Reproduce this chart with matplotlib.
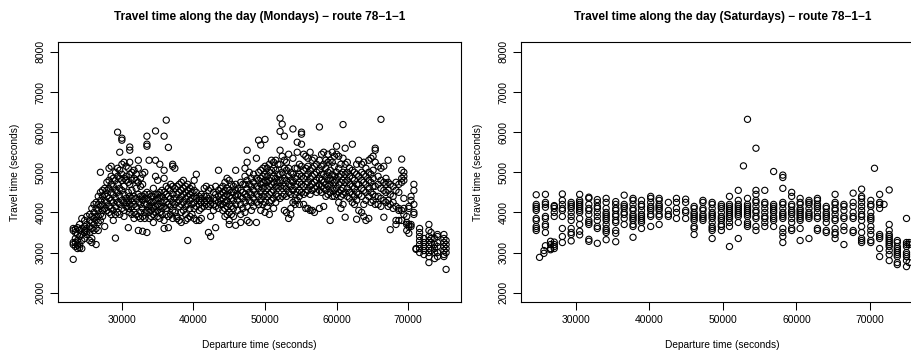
import matplotlib
matplotlib.use("Agg")
import matplotlib.pyplot as plt
import numpy as np

plt.rcParams['font.family'] = ['Liberation Sans', 'DejaVu Sans']

# ---------------- Monday data: departure time -> travel times ----------------
mon_dep = [23200, 23500, 23800, 24100, 24400, 24800, 25100, 25500, 25800, 26100,
           26400, 26700, 27000, 27300, 27600, 27900, 28200, 28500, 28800, 29100,
           29400, 29700, 30000, 30300, 30600, 30900, 31100, 31400, 31700, 32000,
           32300, 32600, 32900, 33200, 33500, 33800, 34100, 34400, 34700, 35000,
           35300, 35600, 35900, 36200, 36500, 36800, 37100, 37400, 37700, 38000,
           38300, 38600, 38900, 39200, 39500, 39800, 40100, 40400, 40800, 41100,
           41500, 41800, 42100, 42400, 42800, 43100, 43500, 43800, 44100, 44400,
           44700, 45000, 45300, 45600, 45900, 46200, 46600, 46900, 47200, 47500,
           47800, 48100, 48400, 48800, 49100, 49400, 49700, 50000, 50300, 50600,
           50900, 51200, 51500, 51800, 52100, 52400, 52700, 53000, 53300, 53600,
           53900, 54200, 54500, 54800, 55100, 55400, 55700, 56000, 56300, 56600,
           56900, 57200, 57600, 57900, 58200, 58500, 58800, 59100, 59400, 59700,
           60000, 60300, 60600, 60900, 61200, 61500, 61800, 62200, 62500, 62800,
           63100, 63500, 63800, 64100, 64500, 64800, 65100, 65400, 65800, 66200,
           66600, 66900, 67200, 67500, 67900, 68300, 68700, 69100, 69400, 69800,
           70100, 70400, 70800, 71100, 71600, 72200, 72900, 73200, 73700, 74100,
           75000, 75300]
mon_travel = [
    [3600, 3550, 3250, 3200, 2830], [3580, 3500, 3350, 3150, 3250],
    [3620, 3450, 3300, 3180, 3100], [3700, 3550, 3400, 3200, 3120],
    [3850, 3600, 3450, 3300, 3100], [3800, 3650, 3500, 3350, 3550],
    [3900, 3700, 3600, 3450, 3520], [3950, 3800, 3650, 3500, 3300],
    [4100, 3900, 3750, 3600, 3350, 3250], [4200, 4000, 3850, 3700, 3550],
    [4250, 4100, 3900, 3800, 3600, 3200], [4400, 4200, 4050, 3900, 3750, 3550],
    [5000, 4500, 4300, 4150, 3950, 3800], [4550, 4400, 4200, 4050, 3900],
    [4600, 4450, 4300, 4100, 3650], [4750, 4550, 4400, 4250, 4050],
    [4800, 4600, 4350, 4150, 4000, 5100], [5150, 4900, 4700, 4500, 4300, 4100, 3950],
    [4850, 4650, 4450, 4250, 4050, 3800], [5000, 4800, 4550, 4350, 4150, 3950, 3360],
    [6000, 5100, 4900, 4700, 4500, 4250, 4000], [5500, 5050, 4850, 4600, 4400, 4200, 3950],
    [5850, 5800, 5200, 4950, 4800, 4550, 4300, 4100], [5250, 4850, 4650, 4450, 4250, 4050, 3900],
    [5150, 4900, 4800, 4350, 4250, 4150], [5100, 4750, 4500, 4300, 4100, 3620],
    [5630, 5550, 5250, 4950, 4700, 4400, 4200, 4000], [5000, 4800, 4550, 4350, 4150, 3950],
    [5050, 4850, 4400, 4200, 4000, 3850], [4800, 4600, 4350, 4150, 3950, 4950],
    [5300, 5100, 4750, 4450, 4250, 3900, 3550], [4850, 4650, 4400, 4200, 4000, 3850],
    [4950, 4700, 4400, 4300, 4100, 3900, 3530], [5000, 4450, 4350, 4200, 4000, 3850],
    [5900, 5700, 5650, 4500, 4350, 4200, 4050, 3500], [5300, 4450, 4300, 4150, 4000, 3850],
    [4400, 4250, 4150, 4050, 3900], [4600, 4400, 4250, 4100, 3950, 3750],
    [6030, 5300, 4900, 4450, 4300, 4150, 4000], [4800, 4450, 4350, 4200, 4050, 3900],
    [5200, 4500, 4350, 4150, 4000, 3850], [4550, 4400, 4250, 4100, 3950],
    [5900, 5050, 4850, 4500, 4300, 4150, 3800, 3600], [6300, 4650, 4450, 4250, 4100, 3950],
    [5620, 4600, 4400, 4200, 3900, 3620], [4700, 4550, 4350, 4150, 3950],
    [5200, 5150, 4650, 4450, 4250, 4050, 3850], [5100, 4600, 4350, 4200, 4000],
    [4650, 4450, 4250, 3900, 3850], [4700, 4500, 4300, 4150, 3800],
    [4750, 4550, 4400, 4200, 4000, 3750], [4800, 4600, 4450, 4250, 4050],
    [4650, 4500, 4350, 4150, 3950, 3800], [4700, 4550, 4400, 4200, 3850, 3300],
    [4600, 4450, 4300, 4100, 3900], [4650, 4500, 4350, 4200, 3950],
    [4800, 4550, 4400, 4250, 4100, 3850], [4950, 4500, 4350, 4150, 3800],
    [4400, 4300, 4200, 4050, 3800], [4450, 4350, 4250, 4100, 3850],
    [4600, 4400, 4250, 4150], [4650, 4400, 4300, 4200],
    [4550, 4350, 4150, 3500], [4600, 4300, 4200, 3900, 3400],
    [4500, 4350, 4200, 4050], [4650, 4450, 4300, 4150, 3620],
    [5050, 4550, 4400, 4250, 4100], [4600, 4450, 4300, 4200],
    [4650, 4500, 4350, 4200, 4050], [4750, 4550, 4400, 4250, 4100, 3900],
    [4850, 4600, 4450, 4300, 4150, 3950], [4800, 4550, 4400, 4200, 4000, 3800, 3700],
    [4700, 4500, 4350, 4150, 3950], [4650, 4500, 4300, 4100, 3900],
    [5050, 4700, 4550, 4400, 4200, 3680], [4600, 4450, 4300, 4050],
    [4750, 4550, 4400, 4200, 3950, 3750], [4700, 4500, 4350, 4100],
    [5100, 4900, 4700, 4450, 4250, 4000], [5550, 5250, 4800, 4600, 4400, 4150, 3800],
    [5000, 4700, 4500, 4300, 3750], [4850, 4650, 4450, 4250, 4050],
    [4950, 4750, 4550, 4350, 4150], [5350, 4850, 4650, 4450, 4250, 3750],
    [5800, 5000, 4800, 4600, 4400, 4200], [5680, 5050, 4850, 4700, 4500, 4300, 4050],
    [5100, 4900, 4750, 4600, 4400, 4200], [5820, 5150, 4950, 4800, 4650, 4450, 4250, 4000],
    [5100, 4900, 4750, 4600, 4400, 4150], [5200, 5000, 4800, 4650, 4450, 4250, 3950],
    [5300, 5050, 4850, 4700, 4500, 4300], [5250, 5100, 4900, 4750, 4550, 4350, 4100],
    [5300, 5050, 4850, 4650, 4450, 4250], [5200, 4950, 4750, 4600, 4400],
    [6350, 6020, 5550, 5200, 4950, 4800, 4650, 4350], [6200, 5400, 5000, 4800, 4600, 4400],
    [5900, 5300, 5100, 4850, 4650, 4450, 4050], [5250, 5050, 4800, 4600, 4400, 4000],
    [5450, 5100, 4900, 4700, 4500, 3850], [5000, 4800, 4650, 4450, 4100, 3950],
    [6080, 5350, 4950, 4750, 4550, 4250], [5100, 4850, 4650, 4450, 4300, 4200],
    [5750, 5500, 5100, 4900, 4700, 4500, 4300], [5200, 4950, 4750, 4550, 4400, 4200],
    [6000, 5950, 5700, 5150, 4900, 4700, 4500], [5450, 5050, 4850, 4650, 4450, 4200],
    [5400, 5100, 4900, 4700, 4500, 4100], [5350, 5150, 4950, 4750, 4550, 4100],
    [5500, 5050, 4850, 4650, 4450, 4050], [5300, 5100, 4900, 4700, 4550, 4050],
    [5350, 5150, 4950, 4750, 4600, 4000], [5200, 5000, 4800, 4650, 4500],
    [6130, 5300, 5050, 4850, 4700, 4550, 4100], [5450, 5150, 4950, 4800, 4650, 4500],
    [5500, 5200, 4950, 4750, 4600, 4150], [5300, 5100, 4900, 4700, 4550, 4400],
    [5450, 5250, 5000, 4800, 4650, 4450], [5300, 5050, 4850, 4700, 4500, 3800],
    [5500, 5250, 4950, 4800, 4600, 4400], [5400, 5150, 4900, 4750, 4550, 4400],
    [5650, 5450, 5000, 4800, 4600, 4450], [5400, 5100, 4900, 4700, 4500, 4250],
    [5200, 4950, 4750, 4550, 4400, 4100], [6190, 5350, 5000, 4800, 4600, 4450, 4200],
    [5600, 5200, 4950, 4750, 4500, 3880], [5250, 5000, 4800, 4600, 4400],
    [5100, 4900, 4700, 4500, 4350], [5700, 5050, 4850, 4650, 4450, 4250],
    [5000, 4800, 4600, 4400, 4200], [5200, 4950, 4700, 4500, 4300, 3830],
    [5300, 4900, 4700, 4450, 4050], [5200, 5000, 4800, 4600, 4400, 4000],
    [5250, 4950, 4750, 4550, 4200, 3900], [5100, 4900, 4700, 4500, 4300, 3800],
    [5300, 5000, 4800, 4600, 4400, 3850], [5350, 4950, 4750, 4500, 4250],
    [5400, 5050, 4850, 4650, 4450, 4300], [5600, 5550, 5250, 4650, 4400, 4200],
    [5150, 4900, 4700, 4400, 4200], [6320, 5100, 4800, 4600, 4350, 4150],
    [5150, 4750, 4550, 4300, 3880], [4850, 4700, 4500, 4250],
    [5300, 4750, 4550, 4300, 4150], [4700, 4450, 4200, 3570],
    [4650, 4400, 4250, 4100], [4750, 4550, 4150, 3800, 3700],
    [4700, 4500, 4100, 4050, 3800], [5330, 5050, 4850, 4750, 4050, 3800],
    [5000, 4900, 4800, 4350, 4100, 3950], [3900, 3750, 3700, 3550],
    [4150, 4100, 3700, 3650, 3480], [4400, 4300, 3650, 3700],
    [4700, 4550, 4200, 4000, 3950], [3100, 3080],
    [3600, 3500, 3400, 3300, 3200, 3100, 3000], [3350, 3250, 3150, 3050, 2950],
    [3700, 3550, 3400, 3300, 3200, 3100, 3000, 2900, 2750], [3500, 3350, 3250, 3050],
    [3350, 3200, 3100, 3000, 2850], [3450, 3400, 3250, 3150, 3000, 2900],
    [3450, 3350, 3250, 3150, 3050, 2950, 2900], [3300, 3200, 3100, 3000, 2580],
]

# ---------------- Saturday data ----------------
sat_dep = [24650, 25100, 25700, 25900, 26600, 27100, 28200, 29400, 30550, 31800,
           32950, 34150, 35450, 36600, 37800, 38950, 40200, 41350, 42600, 43700,
           44950, 46100, 47300, 48550, 49800, 50900, 52100, 52800, 53350, 54500,
           55700, 56900, 58150, 59350, 60500, 61700, 62850, 64050, 65250, 66450,
           67700, 68850, 70100, 70600, 71300, 71900, 72600, 73700, 74950, 75300]
sat_travel = [
    [4440, 4200, 4150, 4100, 4050, 3850, 3800, 3650, 3600, 3550],
    [2880],
    [3050, 2980],
    [4450, 4250, 4200, 4130, 3900, 3850, 3700, 3650, 3500, 3170],
    [3280, 3200, 3100, 3070],
    [4170, 4150, 4100, 4000, 3900, 3260, 3200, 3150, 3100],
    [4460, 4300, 4200, 4100, 4050, 3900, 3600, 3400, 3250],
    [4250, 4200, 4150, 4100, 4000, 3900, 3800, 3600, 3500, 3450, 3290],
    [4450, 4300, 4250, 4200, 4150, 4100, 4050, 4000, 3850, 3700, 3530, 3440],
    [4380, 4350, 4200, 4100, 4050, 3950, 3800, 3750, 3700, 3330, 3280],
    [4320, 4250, 4150, 4100, 4000, 3900, 3800, 3650, 3600, 3230],
    [4350, 4250, 4100, 4000, 3950, 3900, 3850, 3800, 3700, 3600, 3550, 3500, 3320],
    [4270, 4200, 4100, 4050, 3950, 3900, 3800, 3750, 3550, 3480, 3270],
    [4430, 4200, 4150, 4100, 4000, 3950, 3850, 3700],
    [4350, 4300, 4200, 4100, 4050, 3950, 3900, 3850, 3800, 3700, 3650, 3380],
    [4300, 4200, 4150, 4050, 3950, 3900, 3850, 3800, 3750, 3600],
    [4400, 4350, 4250, 4150, 4100, 4050, 3950, 3900, 3650],
    [4350, 4300, 4200, 4150, 4100, 4050, 3950, 3900, 3700],
    [4250, 4050, 3950, 3900],
    [4350, 4250, 4100, 4000, 3850],
    [4330, 4250, 4050, 4000, 3850],
    [4150, 4100, 4000, 3950, 3900, 3850, 3800, 3650, 3600, 3450],
    [4300, 4250, 4100, 4050, 3950, 3900, 3850, 3800],
    [4250, 4200, 4100, 4000, 3950, 3900, 3850, 3750, 3650, 3600, 3550, 3350],
    [4200, 4150, 4100, 4000, 3900, 3850, 3800, 3700, 3650, 3550],
    [4400, 4200, 4150, 4100, 4050, 4000, 3950, 3900, 3850, 3750, 3650, 3150],
    [4550, 4300, 4200, 4150, 4100, 4050, 4000, 3950, 3900, 3750, 3350],
    [5160],
    [6320, 4350, 4200, 4150, 4100, 4050, 4000, 3950, 3900, 3750, 3700, 3650],
    [5600, 4550, 4450, 4300, 4250, 4150, 4050, 4000, 3900, 3850, 3650, 3550],
    [4550, 4250, 4200, 4100, 4000, 3900, 3850, 3750, 3650],
    [5020, 4200, 4150, 4100, 4050, 4000, 3900, 3850, 3800, 3650],
    [4930, 4870, 4600, 4250, 4200, 4100, 4000, 3950, 3900, 3850, 3600, 3500, 3400, 3250],
    [4500, 4400, 4200, 4150, 4050, 4000, 3950, 3850, 3750, 3600, 3550],
    [4350, 4250, 4200, 4100, 4050, 4000, 3950, 3900, 3850, 3800, 3600, 3300],
    [4300, 4250, 4200, 4100, 4000, 3950, 3900, 3850, 3350],
    [4350, 4300, 4200, 4150, 4100, 4000, 3900, 3850, 3600, 3550],
    [4150, 4100, 4000, 3950, 3900, 3850, 3750, 3550, 3500],
    [4450, 4250, 4200, 4100, 4050, 3950, 3850, 3800, 3600, 3500, 3450, 3350],
    [4200, 4150, 4050, 3900, 3850, 3650, 3550, 3200],
    [4480, 4250, 4150, 4000, 3900, 3850, 3550, 3500],
    [4580, 4400, 4350, 4250, 4150, 4050, 3950, 3900, 3800, 3650, 3500, 3350, 3300, 3250],
    [4300, 4200, 4150, 4000, 3900, 3850, 3800, 3650, 3550, 3450, 3300, 3250],
    [5100],
    [4450, 4250, 4200, 4100, 3450, 3400, 3350, 3100, 2900],
    [4200],
    [4560, 3700, 3550, 3450, 3400, 3350, 3300, 3250, 3200, 3150, 3050, 2950, 2800],
    [3300, 3250, 3150, 3100, 3050, 3000, 2950, 2900, 2750, 2700],
    [3850, 3250, 3200, 3150, 3000, 2950, 2900, 2800, 2650],
    [3250, 3200, 2750],
]

x_ticks = [30000, 40000, 50000, 60000, 70000]
y_ticks = [2000, 3000, 4000, 5000, 6000, 7000, 8000]
y_range = (2000, 8000)

titles = ["Travel time along the day (Mondays) \u2212 route 78\u22121\u22121",
          "Travel time along the day (Saturdays) \u2212 route 78\u22121\u22121"]
xlabel = "Departure time (seconds)"
ylabel = "Travel time (seconds)"

W, H = 912, 352
fig = plt.figure(figsize=(W / 100, H / 100), dpi=100)

ax_w = 402.7
ax_h = 260.0
ax_top = 42.3
lefts = [58.3, 521.3]


def flatten(dep, trav):
    xs, ys = [], []
    for d, tt in zip(dep, trav):
        for t in tt:
            xs.append(d)
            ys.append(t)
    return np.array(xs, float), np.array(ys, float)


datasets = [flatten(mon_dep, mon_travel), flatten(sat_dep, sat_travel)]

for i, (xs, ys) in enumerate(datasets):
    ax = fig.add_axes([lefts[i] / W, (H - ax_top - ax_h) / H, ax_w / W, ax_h / H])
    ax.scatter(xs, ys, s=20, facecolors='none', edgecolors='black', linewidths=0.8)
    r = xs.max() - xs.min()
    ax.set_xlim(xs.min() - 0.04 * r, xs.max() + 0.04 * r)
    yr = y_range[1] - y_range[0]
    ax.set_ylim(y_range[0] - 0.04 * yr, y_range[1] + 0.04 * yr)
    ax.set_xticks(x_ticks)
    ax.set_yticks(y_ticks)
    ax.set_xticklabels([str(v) for v in x_ticks])
    ax.set_yticklabels([str(v) for v in y_ticks], rotation=90, va='center')
    ax.tick_params(direction='out', length=5.5, width=0.75, labelsize=7.5,
                   colors='black', pad=3.5)
    for sp in ax.spines.values():
        sp.set_linewidth(0.8)
    ax.text(0.5, 1 + 25.6 / ax_h, titles[i], transform=ax.transAxes,
            ha='center', va='center', fontsize=8.6, fontweight='bold')
    ax.text(0.5, -42.7 / ax_h, xlabel, transform=ax.transAxes,
            ha='center', va='center', fontsize=7.3)
    ax.text(-43.3 / ax_w, 0.5, ylabel, transform=ax.transAxes, rotation=90,
            ha='center', va='center', fontsize=7.3)

fig.savefig("out.png", dpi=100)
